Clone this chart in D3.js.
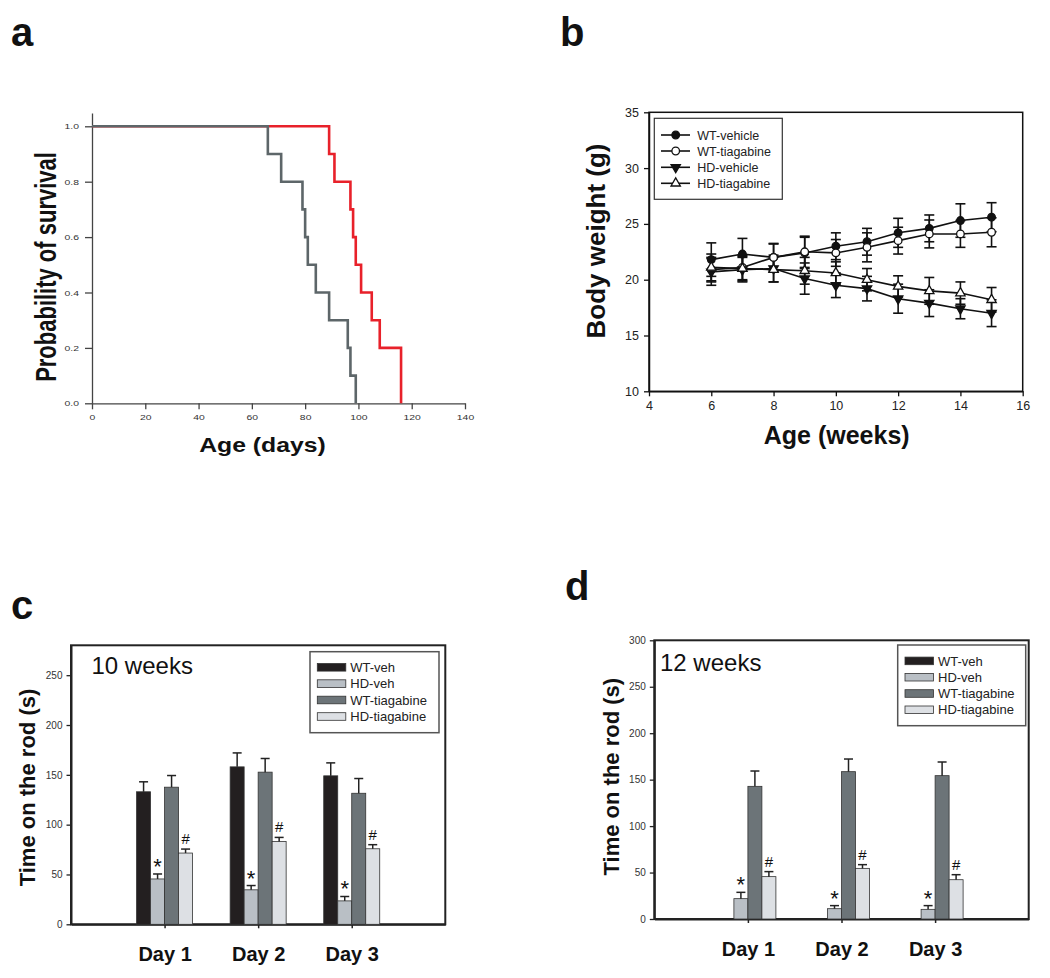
<!DOCTYPE html>
<html><head><meta charset="utf-8">
<script src="https://cdn.jsdelivr.net/npm/d3@7"></script>
<style>
body{margin:0;background:#fff;}
svg{display:block;}
text{font-family:"Liberation Sans",Arial,Helvetica,sans-serif;}
</style>
</head><body>
<svg id="chart" width="1050" height="978"></svg>
<script>
// ---------- Panel a: survival ----------
const redDay  = [0, 89, 91, 97, 98, 99, 101, 105, 108, 116];
const redSurv = [1.0, 0.9, 0.8, 0.7, 0.6, 0.5, 0.4, 0.3, 0.2, 0.0];
const greyDay  = [0, 66, 71, 79, 80, 81, 84, 89, 96, 97, 99];
const greySurv = [1.0, 0.9, 0.8, 0.7, 0.6, 0.5, 0.4, 0.3, 0.2, 0.1, 0.0];
const survXTicks = [0, 20, 40, 60, 80, 100, 120, 140];
const survYTicks = [0, 0.2, 0.4, 0.6, 0.8, 1.0];

// ---------- Panel b: body weight ----------
const weeks = [6, 7, 8, 9, 10, 11, 12, 13, 14, 15];
const wtVehW    = [21.8, 22.3, 22.0, 22.4, 23.0, 23.4, 24.2, 24.6, 25.3, 25.6];
const wtVehWErr = [1.5, 1.4, 1.25, 1.4, 1.2, 1.2, 1.3, 1.2, 1.5, 1.3];
const wtTiaW    = [20.9, 21.1, 22.0, 22.5, 22.4, 22.9, 23.5, 24.1, 24.1, 24.25];
const wtTiaWErr = [1.1, 1.1, 1.2, 1.4, 1.2, 1.3, 1.2, 1.25, 1.2, 1.3];
const hdVehW    = [20.7, 20.9, 21.0, 20.1, 19.5, 19.2, 18.3, 17.9, 17.4, 17.0];
const hdVehWErr = [1.2, 1.1, 1.2, 1.4, 1.1, 1.1, 1.3, 1.2, 0.9, 1.2];
const hdTiaW    = [21.1, 21.0, 20.9, 20.8, 20.6, 20.0, 19.4, 19.0, 18.8, 18.2];
const hdTiaWErr = [1.2, 1.1, 1.1, 1.2, 1.0, 1.0, 0.95, 1.2, 1.0, 1.1];
const weightSeriesNames = ["WT-vehicle", "WT-tiagabine", "HD-vehicle", "HD-tiagabine"];
const weightXTicks = [4, 6, 8, 10, 12, 14, 16];
const weightYTicks = [10, 15, 20, 25, 30, 35];

// ---------- Panels c, d: rotarod ----------
const days = ["Day 1", "Day 2", "Day 3"];
const rodGroups = ["WT-veh", "HD-veh", "WT-tiagabine", "HD-tiagabine"];
const rodMarks = ["", "*", "", "#"];
// 10 weeks
const wtVeh10 = [133, 158, 149],     wtVeh10Err = [10, 14, 13];
const hdVeh10 = [45.5, 34.6, 23.5],  hdVeh10Err = [5, 4.3, 4.4];
const wtTia10 = [137.6, 152.7, 131.5], wtTia10Err = [11.7, 13.7, 14.8];
const hdTia10 = [71.5, 83.2, 75.8],  hdTia10Err = [4, 4, 4.1];
// 12 weeks
const wtVeh12 = [0, 0, 0],           wtVeh12Err = [0, 0, 0];
const hdVeh12 = [21.9, 11.1, 10.4],  hdVeh12Err = [6.8, 3.3, 4];
const wtTia12 = [142.8, 158.6, 154.3], wtTia12Err = [16.5, 13.6, 14.7];
const hdTia12 = [45.6, 54.5, 42.3],  hdTia12Err = [5.4, 4, 5.4];
const rodYTicks10 = [0, 50, 100, 150, 200, 250];
const rodYTicks12 = [0, 50, 100, 150, 200, 250, 300];

const svg = d3.select("#chart");

// panel letters
[["a", 11, 46], ["b", 560, 46], ["c", 11, 619], ["d", 565, 600]].forEach(([t, x, y]) => {
  svg.append("text").attr("x", x).attr("y", y).attr("font-size", 40)
    .attr("font-weight", "bold").attr("fill", "#111").text(t);
});

// ================= Panel a =================
(function () {
  const g = svg.append("g");
  const x = d3.scaleLinear().domain([0, 140]).range([92, 465]);
  const y = d3.scaleLinear().domain([0, 1.048]).range([403.3, 113]);

  const ay = g.append("g").attr("transform", "translate(92,0)")
    .call(d3.axisLeft(y).tickValues(survYTicks).tickFormat(d3.format(".1f"))
      .tickSize(7).tickSizeOuter(0).tickPadding(3));
  const ax = g.append("g").attr("transform", "translate(0,403.3)")
    .call(d3.axisBottom(x).tickValues(survXTicks).tickSize(6).tickSizeOuter(0).tickPadding(5));
  [ay, ax].forEach(a => {
    a.select(".domain").attr("stroke", "#444").attr("stroke-width", 1.3);
    a.selectAll(".tick line").attr("stroke", "#444").attr("stroke-width", 1.3);
    a.selectAll(".tick text").attr("font-size", 8).attr("fill", "#333")
      .attr("font-family", "Liberation Sans, Arial, sans-serif")
      .attr("transform", "scale(1.3,1)");
  });

  const line = d3.line().x(d => x(d[0])).y(d => y(d[1])).curve(d3.curveStepAfter);
  g.append("path").datum(redDay.map((d, i) => [d, redSurv[i]]))
    .attr("d", line).attr("fill", "none").attr("stroke", "#e8212a").attr("stroke-width", 2.6);
  g.append("path").datum(greyDay.map((d, i) => [d, greySurv[i]]))
    .attr("d", line).attr("fill", "none").attr("stroke", "#5d6669").attr("stroke-width", 2.6);

  g.append("text").attr("transform", "translate(46,267) scale(1.3,1) rotate(-90)")
    .attr("text-anchor", "middle").attr("dy", "0.36em")
    .attr("font-size", 22).attr("font-weight", "bold").attr("fill", "#111")
    .text("Probability of survival");
  g.append("text").attr("transform", "translate(262.5,452) scale(1.27,1)")
    .attr("text-anchor", "middle").attr("font-size", 19.5).attr("font-weight", "bold")
    .attr("fill", "#111").text("Age (days)");
})();

// ================= Panel b =================
(function () {
  const g = svg.append("g");
  const x = d3.scaleLinear().domain([4, 16]).range([649, 1022.7]);
  const y = d3.scaleLinear().domain([10, 35]).range([391.3, 112.3]);

  const ay = g.append("g").attr("transform", "translate(649,0)")
    .call(d3.axisLeft(y).tickValues(weightYTicks).tickSize(5).tickSizeOuter(0).tickPadding(5));
  const ax = g.append("g").attr("transform", "translate(0,391.3)")
    .call(d3.axisBottom(x).tickValues(weightXTicks).tickSize(5).tickSizeOuter(0).tickPadding(5));
  [ay, ax].forEach(a => {
    a.select(".domain").attr("stroke", "#111").attr("stroke-width", 1.5);
    a.selectAll(".tick line").attr("stroke", "#111").attr("stroke-width", 1.3);
    a.selectAll(".tick text").attr("font-size", 12.5).attr("fill", "#222")
      .attr("font-family", "Liberation Sans, Arial, sans-serif");
  });
  g.append("rect").attr("x", 649).attr("y", 112.3).attr("width", 1022.7 - 649).attr("height", 391.3 - 112.3)
    .attr("fill", "none").attr("stroke", "#111").attr("stroke-width", 1.5);

  const series = [
    { name: weightSeriesNames[0], v: wtVehW, e: wtVehWErr, sym: "circle", fill: "#111" },
    { name: weightSeriesNames[1], v: wtTiaW, e: wtTiaWErr, sym: "circle", fill: "#fff" },
    { name: weightSeriesNames[2], v: hdVehW, e: hdVehWErr, sym: "down", fill: "#111" },
    { name: weightSeriesNames[3], v: hdTiaW, e: hdTiaWErr, sym: "up", fill: "#fff" },
  ];
  const cap = 5;
  series.forEach(s => {
    const eg = g.append("g").attr("stroke", "#111").attr("stroke-width", 1.6);
    weeks.forEach((w, i) => {
      const cx = x(w), t = y(s.v[i] + s.e[i]), b = y(s.v[i] - s.e[i]);
      eg.append("line").attr("x1", cx).attr("x2", cx).attr("y1", t).attr("y2", b);
      eg.append("line").attr("x1", cx - cap).attr("x2", cx + cap).attr("y1", t).attr("y2", t);
      eg.append("line").attr("x1", cx - cap).attr("x2", cx + cap).attr("y1", b).attr("y2", b);
    });
  });
  const line = d3.line().x((d, i) => x(weeks[i])).y(d => y(d));
  series.forEach(s => {
    g.append("path").datum(s.v).attr("d", line).attr("fill", "none")
      .attr("stroke", "#111").attr("stroke-width", 1.6);
  });
  const tri = d3.symbol().type(d3.symbolTriangle).size(38)();
  function marker(sel, s, cx, cy) {
    if (s.sym === "circle") {
      sel.append("circle").attr("cx", cx).attr("cy", cy).attr("r", 3.8)
        .attr("fill", s.fill).attr("stroke", "#111").attr("stroke-width", 1.3);
    } else {
      sel.append("path").attr("d", tri)
        .attr("transform", `translate(${cx},${cy})` + (s.sym === "down" ? " rotate(180)" : ""))
        .attr("fill", s.fill).attr("stroke", "#111").attr("stroke-width", 1.3);
    }
  }
  series.forEach(s => {
    weeks.forEach((w, i) => marker(g, s, x(w), y(s.v[i])));
  });

  // legend
  const lg = g.append("g");
  lg.append("rect").attr("x", 654.3).attr("y", 118.3).attr("width", 128).attr("height", 81)
    .attr("fill", "#fff").attr("stroke", "#333").attr("stroke-width", 1.2);
  const rowsY = [135, 151, 167.3, 183.3];
  series.forEach((s, i) => {
    const yy = rowsY[i];
    lg.append("line").attr("x1", 661).attr("x2", 690).attr("y1", yy).attr("y2", yy)
      .attr("stroke", "#111").attr("stroke-width", 1.6);
    marker(lg, s, 675.7, yy);
    lg.append("text").attr("x", 697.3).attr("y", yy).attr("dy", "0.36em")
      .attr("font-size", 12.5).attr("fill", "#222").text(s.name);
  });

  g.append("text").attr("transform", "translate(596,241) rotate(-90)")
    .attr("text-anchor", "middle").attr("dy", "0.36em")
    .attr("font-size", 26).attr("font-weight", "bold").attr("fill", "#111")
    .text("Body weight (g)");
  g.append("text").attr("x", 836.7).attr("y", 443.5)
    .attr("text-anchor", "middle").attr("font-size", 25).attr("font-weight", "bold")
    .attr("fill", "#111").text("Age (weeks)");
})();

// ================= Panels c, d =================
const rodColors = ["#231f20", "#b9bfc5", "#6c7478", "#dde0e4"];

function rodPanel(cfg) {
  const g = svg.append("g");
  const x = d3.scalePoint().domain(days).range([cfg.x0, cfg.x1]).padding(1);
  const y = d3.scaleLinear().domain([0, cfg.ymax]).range([cfg.y0, cfg.y1]);
  const sub = d3.scaleBand().domain(rodGroups).range([-28, 28]).padding(0);

  const ay = g.append("g").attr("transform", `translate(${cfg.x0},0)`)
    .call(d3.axisLeft(y).tickValues(cfg.yTicks).tickSize(4.5).tickSizeOuter(0).tickPadding(4));
  const ax = g.append("g").attr("transform", `translate(0,${cfg.y0})`)
    .call(d3.axisBottom(x).tickSize(4).tickSizeOuter(0).tickPadding(cfg.dayPad));
  ay.select(".domain").attr("stroke", "#222").attr("stroke-width", 2);
  ax.select(".domain").attr("stroke", "#222").attr("stroke-width", 2);
  ay.selectAll(".tick line").attr("stroke", "#222").attr("stroke-width", 1.3);
  ax.selectAll(".tick line").attr("stroke", "#222").attr("stroke-width", 1.5);
  ay.selectAll(".tick text").attr("font-size", 10).attr("fill", "#333")
    .attr("font-family", "Liberation Sans, Arial, sans-serif");
  ax.selectAll(".tick text").attr("font-size", 20).attr("font-weight", "bold").attr("fill", "#111")
    .attr("font-family", "Liberation Sans, Arial, sans-serif");

  g.append("rect").attr("x", cfg.x0).attr("y", cfg.y1).attr("width", cfg.x1 - cfg.x0)
    .attr("height", cfg.y0 - cfg.y1).attr("fill", "none").attr("stroke", "#222").attr("stroke-width", 2);

  const bw = sub.bandwidth();
  cfg.values.forEach((vals, gi) => {
    const errs = cfg.errors[gi];
    days.forEach((d, di) => {
      const v = vals[di];
      if (v <= 0) return;
      const bx = x(d) + sub(rodGroups[gi]);
      g.append("rect").attr("x", bx).attr("y", y(v)).attr("width", bw).attr("height", y(0) - y(v))
        .attr("fill", rodColors[gi]).attr("stroke", "#333").attr("stroke-width", 0.8);
      const cx = bx + bw / 2, top = y(v + errs[di]);
      g.append("line").attr("x1", cx).attr("x2", cx).attr("y1", y(v)).attr("y2", top)
        .attr("stroke", "#222").attr("stroke-width", 1.5);
      g.append("line").attr("x1", cx - 4.5).attr("x2", cx + 4.5).attr("y1", top).attr("y2", top)
        .attr("stroke", "#222").attr("stroke-width", 1.5);
      const m = rodMarks[gi];
      if (m === "*") {
        g.append("text").attr("x", cx).attr("y", top - 12.5 + 12.5).attr("text-anchor", "middle")
          .attr("font-size", 22).attr("fill", "#111").text("*");
      } else if (m === "#") {
        g.append("text").attr("x", cx).attr("y", top - 10.5 + 5.5).attr("text-anchor", "middle")
          .attr("font-size", 15).attr("fill", "#111").text("#");
      }
    });
  });

  g.append("text").attr("x", cfg.titleX).attr("y", cfg.titleY).attr("font-size", 24)
    .attr("fill", "#111").text(cfg.title);

  const L = cfg.legend;
  g.append("rect").attr("x", L.x).attr("y", L.y).attr("width", L.w).attr("height", L.h)
    .attr("fill", "#fff").attr("stroke", "#555").attr("stroke-width", 1.5);
  rodGroups.forEach((name, i) => {
    const yy = L.rows[i];
    g.append("rect").attr("x", L.sx).attr("y", yy - 3.8).attr("width", 28.5).attr("height", 7.6)
      .attr("fill", rodColors[i]).attr("stroke", "#333").attr("stroke-width", 0.8);
    g.append("text").attr("x", L.sx + 33).attr("y", yy).attr("dy", "0.36em")
      .attr("font-size", 13).attr("fill", "#222").text(name);
  });

  g.append("text").attr("transform", `translate(${cfg.ylabX},${cfg.ylabY}) rotate(-90)`)
    .attr("text-anchor", "middle").attr("dy", "0.36em")
    .attr("font-size", 22).attr("font-weight", "bold").attr("fill", "#111")
    .text("Time on the rod (s)");
}

rodPanel({
  x0: 71, x1: 445.3, y0: 924.3, y1: 645.3, ymax: 280, yTicks: rodYTicks10, dayPad: 18.5,
  values: [wtVeh10, hdVeh10, wtTia10, hdTia10],
  errors: [wtVeh10Err, hdVeh10Err, wtTia10Err, hdTia10Err],
  title: "10 weeks", titleX: 91.5, titleY: 674,
  legend: { x: 310, y: 651.7, w: 129, h: 81, sx: 317.3, rows: [667.3, 683.6, 700, 716.5] },
  ylabX: 27, ylabY: 787.5
});
rodPanel({
  x0: 654.3, x1: 1028.7, y0: 919, y1: 640.3, ymax: 300, yTicks: rodYTicks12, dayPad: 18.5,
  values: [wtVeh12, hdVeh12, wtTia12, hdTia12],
  errors: [wtVeh12Err, hdVeh12Err, wtTia12Err, hdTia12Err],
  title: "12 weeks", titleX: 660, titleY: 670.7,
  legend: { x: 897.7, y: 645, w: 128, h: 80.7, sx: 905, rows: [660.9, 677.2, 693.5, 709.8] },
  ylabX: 611, ylabY: 776.7
});
</script>
</body></html>
